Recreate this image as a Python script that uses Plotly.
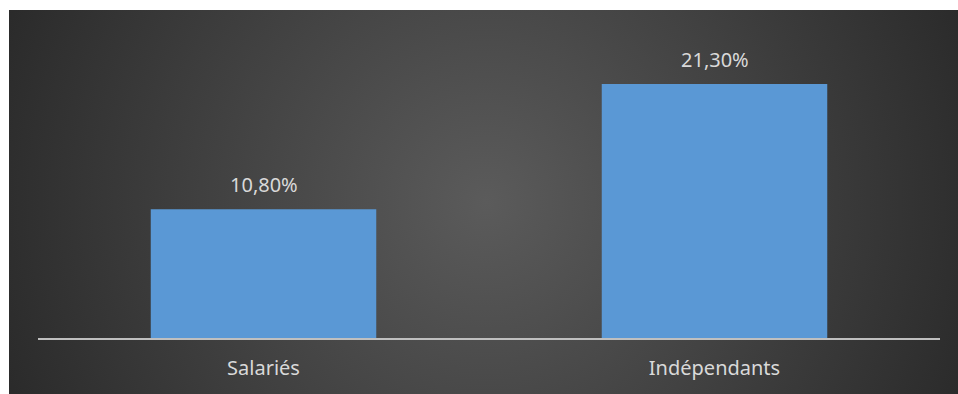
import base64
import plotly.graph_objects as go

# Share of each population (percent)
categories = ["Salariés", "Indépendants"]
values = [10.8, 21.3]
value_labels = [f"{v:.2f}%".replace(".", ",") for v in values]

W, H = 958, 394
ML, MR, MT, MB = 38, 18, 40, 56
plot_w = W - ML - MR
plot_h = H - MT - MB

# Dark radial background for the chart area (starts at x=9, y=10 of the page)
bg_x0, bg_y0 = 9, 10
bg_w, bg_h = W - bg_x0, H - bg_y0
svg = f"""<svg xmlns='http://www.w3.org/2000/svg' width='{bg_w}' height='{bg_h}' viewBox='0 0 {bg_w} {bg_h}' preserveAspectRatio='none'>
<defs><radialGradient id='g' gradientUnits='userSpaceOnUse' cx='{bg_w / 2 + 3}' cy='{bg_h / 2}' r='520'>
<stop offset='0' stop-color='#5b5b5b'/><stop offset='1' stop-color='#2a2a2a'/>
</radialGradient></defs>
<rect width='{bg_w}' height='{bg_h}' fill='url(#g)'/></svg>"""
bg_src = "data:image/svg+xml;base64," + base64.b64encode(svg.encode()).decode()

fig = go.Figure()
fig.add_trace(go.Bar(
    x=categories, y=values,
    marker=dict(color="#5a98d5", line=dict(width=0)),
    hoverinfo="skip",
))

for c, v, t in zip(categories, values, value_labels):
    fig.add_annotation(
        x=c, y=v, text=t, showarrow=False,
        yanchor="middle", yshift=25,
        font=dict(family="Noto Sans", size=20, color="#d9d9d9"),
    )

fig.add_layout_image(
    source=bg_src, xref="paper", yref="paper",
    x=(bg_x0 - ML) / plot_w, y=(H - MB - bg_y0) / plot_h,
    sizex=bg_w / plot_w, sizey=bg_h / plot_h,
    xanchor="left", yanchor="top", sizing="stretch", layer="below",
)

# White page strips along the left and top edges
px_x = lambda p: (p - ML) / plot_w
px_y = lambda p: (H - MB - p) / plot_h
for x0, y0, x1, y1 in [(0, 0, bg_x0, H), (0, 0, W, bg_y0)]:
    fig.add_shape(
        type="rect", xref="paper", yref="paper", layer="below",
        x0=px_x(x0), x1=px_x(x1), y0=px_y(y1), y1=px_y(y0),
        fillcolor="white", line=dict(width=0),
    )

fig.update_layout(
    width=W, height=H,
    margin=dict(l=ML, r=MR, t=MT, b=MB, pad=0, autoexpand=False),
    paper_bgcolor="#2e2e2e", plot_bgcolor="rgba(0,0,0,0)",
    bargap=0.5, showlegend=False,
    font=dict(family="Noto Sans", size=20, color="#d9d9d9"),
)
fig.update_xaxes(
    showline=True, linecolor="#bfbfbf", linewidth=2,
    showgrid=False, ticks="", ticklabelstandoff=11, automargin=False,
    tickfont=dict(family="Noto Sans", size=20, color="#d9d9d9"),
    fixedrange=True,
)
fig.update_yaxes(
    range=[0, 25], showgrid=False, zeroline=False, automargin=False,
    showticklabels=False, ticks="", fixedrange=True,
)

fig.write_html(
    "out.html", config={"displayModeBar": False},
    post_script="document.body.style.overflow='hidden';",
)
